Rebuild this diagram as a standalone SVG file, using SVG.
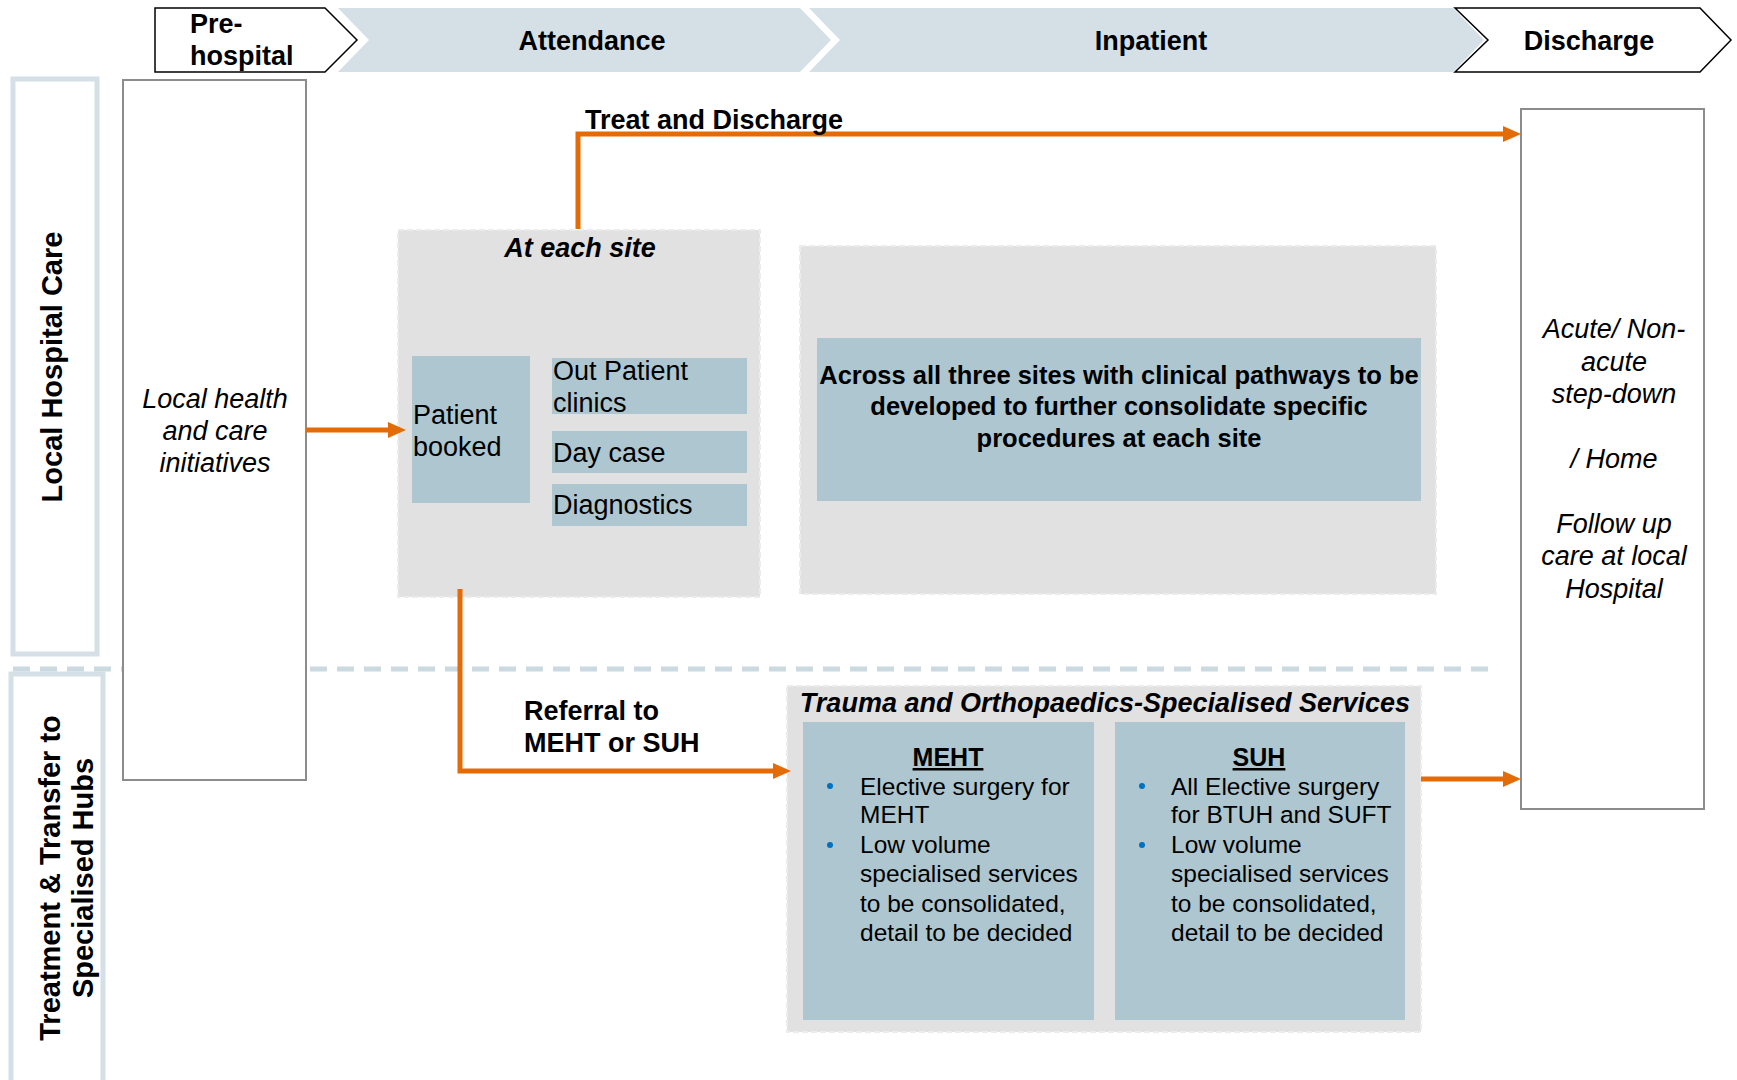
<svg xmlns="http://www.w3.org/2000/svg" width="1737" height="1080" viewBox="0 0 1737 1080">
<style>
text{font-family:"Liberation Sans",Arial,sans-serif;fill:#000}
.hdr{font-size:27px;font-weight:bold}
.lane{font-size:29px;font-weight:bold}
.it{font-size:27px;font-style:italic}
.reg{font-size:27px}
.bi{font-size:27px;font-weight:bold;font-style:italic}
.bl{font-size:27px;font-weight:bold}
.acr{font-size:25.5px;font-weight:bold}
.bul{font-size:24.5px}
.ttl{font-size:25px;font-weight:bold;text-decoration:underline}
.chevW{fill:#fff;stroke:#000;stroke-width:1.5}
.chevB{fill:#d4e0e5}
.laneBox{fill:none;stroke:#d4e0e5;stroke-width:5}
.wbox{fill:#fff;stroke:#8c8c8c;stroke-width:2}
.gbox{fill:#e1e1e1;stroke:#ececec;stroke-width:2;stroke-dasharray:6 3}
.bbox{fill:#adc6d0}
.conn{fill:none;stroke:#e36c09;stroke-width:5}
.dot{fill:#0070c0}
</style>
<defs>
<marker id="ah" markerUnits="userSpaceOnUse" markerWidth="20" markerHeight="18" refX="4" refY="8" orient="auto">
<path d="M0,0 L18,8 L0,16 z" fill="#e36c09"/>
</marker>
</defs>

<g id="header">
<g id="h-prehospital">
<path class="chevW" d="M155,8 H325 L357,40 L325,72 H155 Z"/>
<text class="hdr" x="190" y="33">Pre-</text>
<text class="hdr" x="190" y="65">hospital</text>
</g>
<g id="h-attendance">
<path class="chevB" d="M338,8 H800 L831,40 L800,72 H338 L369,40 Z"/>
<text class="hdr" x="592" y="50" text-anchor="middle">Attendance</text>
</g>
<g id="h-inpatient">
<path class="chevB" d="M809,8 H1453 L1484,40 L1453,72 H809 L840,40 Z"/>
<text class="hdr" x="1151" y="50" text-anchor="middle">Inpatient</text>
</g>
<g id="h-discharge">
<path class="chevW" d="M1455,8 H1700 L1731,40 L1700,72 H1455 L1488,40 Z"/>
<text class="hdr" x="1589" y="50" text-anchor="middle">Discharge</text>
</g>
</g>

<g id="lanes">
<g id="lane-local">
<rect class="laneBox" x="13" y="79" width="84" height="575"/>
<text class="lane" transform="translate(62,367) rotate(-90)" text-anchor="middle">Local Hospital Care</text>
</g>
<g id="lane-specialised">
<path class="laneBox" d="M11,1082 V674 H103 V1082"/>
<text class="lane" transform="translate(60,878) rotate(-90)" text-anchor="middle">Treatment &amp; Transfer to</text>
<text class="lane" transform="translate(93,878) rotate(-90)" text-anchor="middle">Specialised Hubs</text>
</g>
<line id="divider" x1="13" y1="669" x2="1490" y2="669" stroke="#cbd9e0" stroke-width="5" stroke-dasharray="17 10"/>
</g>

<g id="node-local-health">
<rect class="wbox" x="123" y="80" width="183" height="700"/>
<text class="it" x="215" y="408" text-anchor="middle">Local health</text>
<text class="it" x="215" y="440" text-anchor="middle">and care</text>
<text class="it" x="215" y="472" text-anchor="middle">initiatives</text>
</g>

<g id="node-each-site">
<rect class="gbox" x="398" y="230" width="362" height="367"/>
<text class="bi" x="580" y="257" text-anchor="middle">At each site</text>
<g id="node-patient-booked">
<rect class="bbox" x="412" y="356" width="118" height="147"/>
<text class="reg" x="413" y="424">Patient</text>
<text class="reg" x="413" y="456">booked</text>
</g>
<g id="node-outpatient">
<rect class="bbox" x="552" y="358" width="195" height="56"/>
<text class="reg" x="553" y="380">Out Patient</text>
<text class="reg" x="553" y="412">clinics</text>
</g>
<g id="node-daycase">
<rect class="bbox" x="552" y="431" width="195" height="42"/>
<text class="reg" x="553" y="462">Day case</text>
</g>
<g id="node-diagnostics">
<rect class="bbox" x="552" y="484" width="195" height="42"/>
<text class="reg" x="553" y="514">Diagnostics</text>
</g>
</g>

<g id="node-inpatient">
<rect class="gbox" x="800" y="246" width="636" height="348"/>
<rect class="bbox" x="817" y="338" width="604" height="163"/>
<text class="acr" x="1119" y="384" text-anchor="middle">Across all three sites with clinical pathways to be</text>
<text class="acr" x="1119" y="415" text-anchor="middle">developed to further consolidate specific</text>
<text class="acr" x="1119" y="447" text-anchor="middle">procedures at each site</text>
</g>

<g id="node-discharge">
<rect class="wbox" x="1521" y="109" width="183" height="700"/>
<text class="it" x="1614" y="338" text-anchor="middle">Acute/ Non-</text>
<text class="it" x="1614" y="371" text-anchor="middle">acute</text>
<text class="it" x="1614" y="403" text-anchor="middle">step-down</text>
<text class="it" x="1614" y="468" text-anchor="middle">/ Home</text>
<text class="it" x="1614" y="533" text-anchor="middle">Follow up</text>
<text class="it" x="1614" y="565" text-anchor="middle">care at local</text>
<text class="it" x="1614" y="598" text-anchor="middle">Hospital</text>
</g>

<g id="node-trauma">
<rect class="gbox" x="787" y="686" width="634" height="346"/>
<text class="bi" x="1105" y="712" text-anchor="middle">Trauma and Orthopaedics-Specialised Services</text>
<g id="node-meht">
<rect class="bbox" x="803" y="722" width="291" height="298"/>
<text class="ttl" x="948" y="766" text-anchor="middle">MEHT</text>
<circle class="dot" cx="830" cy="786" r="3"/>
<circle class="dot" cx="830" cy="845" r="3"/>
<text class="bul" x="860" y="795">Elective surgery for</text>
<text class="bul" x="860" y="823">MEHT</text>
<text class="bul" x="860" y="853">Low volume</text>
<text class="bul" x="860" y="882">specialised services</text>
<text class="bul" x="860" y="912">to be consolidated,</text>
<text class="bul" x="860" y="941">detail to be decided</text>
</g>
<g id="node-suh">
<rect class="bbox" x="1115" y="722" width="290" height="298"/>
<text class="ttl" x="1259" y="766" text-anchor="middle">SUH</text>
<circle class="dot" cx="1142" cy="786" r="3"/>
<circle class="dot" cx="1142" cy="845" r="3"/>
<text class="bul" x="1171" y="795">All Elective surgery</text>
<text class="bul" x="1171" y="823">for BTUH and SUFT</text>
<text class="bul" x="1171" y="853">Low volume</text>
<text class="bul" x="1171" y="882">specialised services</text>
<text class="bul" x="1171" y="912">to be consolidated,</text>
<text class="bul" x="1171" y="941">detail to be decided</text>
</g>
</g>

<g id="connectors">
<path class="conn" d="M578,229 V134 H1507" marker-end="url(#ah)"/>
<text class="bl" x="585" y="129">Treat and Discharge</text>
<path class="conn" d="M306,430 H392" marker-end="url(#ah)"/>
<path class="conn" d="M460,589 V771 H777" marker-end="url(#ah)"/>
<text class="bl" x="524" y="720">Referral to</text>
<text class="bl" x="524" y="752">MEHT or SUH</text>
<path class="conn" d="M1421,779 H1507" marker-end="url(#ah)"/>
</g>
</svg>
